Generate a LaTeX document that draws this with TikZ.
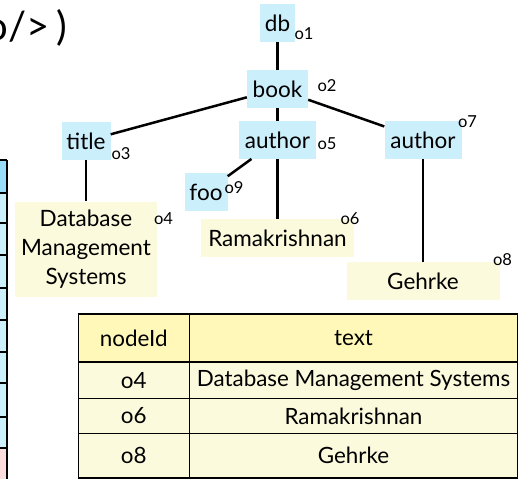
\documentclass[tikz,border=0pt]{standalone}
\usepackage{fontspec}
\setmainfont{Lato}
\usepackage{xcolor}
\usetikzlibrary{positioning}

\definecolor{tagblue}{HTML}{CCEFFC}
\definecolor{textyellow}{HTML}{FCFADD}
\definecolor{headyellow}{HTML}{FFF8B8}
\definecolor{edgeblue}{HTML}{99DDF8}
\definecolor{edgepink}{HTML}{FCDCDC}

\begin{document}
\begin{tikzpicture}[x=1pt,y=-1pt,
        elem/.style={fill=tagblue,inner xsep=2pt,minimum height=37.5pt,font=\fontsize{22.5}{26}\selectfont},
        txt/.style={fill=textyellow,inner xsep=2pt,minimum height=37.5pt,font=\fontsize{22.5}{29}\selectfont},
        oid/.style={inner sep=0pt,font=\fontsize{16.5}{18}\selectfont},
        link/.style={line width=2.5pt},
        cell/.style={draw=black,line width=1.5pt,fill=textyellow,inner sep=0pt,font=\fontsize{22.4}{26}\selectfont}]
        \useasboundingbox (0,0) rectangle (531,479);
        \clip (0,0) rectangle (531,479);

        % cut off rest of the slide
        \node[anchor=base east,inner sep=0pt,font=\fontsize{40}{44}\selectfont] (xml) at (67,41) {o/>\,)};

        \fill[edgeblue] (-10,160) rectangle (7,193);
        \fill[tagblue] (-10,193) rectangle (7,448);
        \fill[edgepink] (-10,448) rectangle (7,485);
        \foreach \y in {160,193,223,255,288,320,352,383,417,448}
            \draw[line width=1.5pt] (-10,\y) -- (7,\y);
        \draw[line width=1.5pt] (7,160) -- (7,485);

        % the tree
        \node[elem,minimum width=35pt] (db) at (277.5,23) {db};
        \node[oid] at (304,34) {o1};
        \node[elem,minimum width=61pt] (book) at (277.5,89) {book};
        \node[oid] at (327,86) {o2};
        \node[elem,minimum width=49pt] (title) at (86,141) {title};
        \node[oid] at (121,154) {o3};
        \node[elem,minimum width=77pt] (author1) at (277.5,140) {author};
        \node[oid] at (327,144) {o5};
        \node[elem,minimum width=77pt] (author2) at (423,140) {author};
        \node[oid] at (467.5,122) {o7};
        \node[elem,minimum width=43pt] (foo) at (206,192) {foo};
        \node[oid] at (234,188) {o9};

        \node[txt,minimum width=142pt,minimum height=95pt,align=center] (dms) at (86,249) {Database\\Management\\Systems};
        \node[oid] at (163.5,218.5) {o4};
        \node[txt,minimum width=153pt] (rama) at (277.5,238) {Ramakrishnan};
        \node[oid] at (350,219) {o6};
        \node[txt,minimum width=153pt] (gehrke) at (423,281) {Gehrke};
        \node[oid] at (502.5,260) {o8};

        \draw[link] (db) -- (book);
        \draw[link] (book) -- (title);
        \draw[link] (book) -- (author1);
        \draw[link] (book) -- (author2);
        \draw[link] (title) -- (dms);
        \draw[link] (author1) -- (foo);
        \draw[link] (author1) -- (rama);
        \draw[link] (author2) -- (gehrke);

        % text table
        \node[cell,fill=headyellow,minimum width=111pt,minimum height=48pt] (h1) at (133.8,338) {nodeId};
        \node[cell,fill=headyellow,minimum width=328.4pt,minimum height=48pt] (h2) at (353.5,338) {text};
        \node[cell,minimum width=111pt,minimum height=36.5pt] (r1a) at (133.8,380.2) {o4};
        \node[cell,minimum width=328.4pt,minimum height=36.5pt] (r1b) at (353.5,380.2) {Database Management Systems};
        \node[cell,minimum width=111pt,minimum height=35pt] (r2a) at (133.8,416) {o6};
        \node[cell,minimum width=328.4pt,minimum height=35pt] (r2b) at (353.5,416) {Ramakrishnan};
        \node[cell,minimum width=111pt,minimum height=44.7pt] (r3a) at (133.8,455.7) {o8};
        \node[cell,minimum width=328.4pt,minimum height=44.7pt] (r3b) at (353.5,455.7) {Gehrke};
\end{tikzpicture}
\end{document}
